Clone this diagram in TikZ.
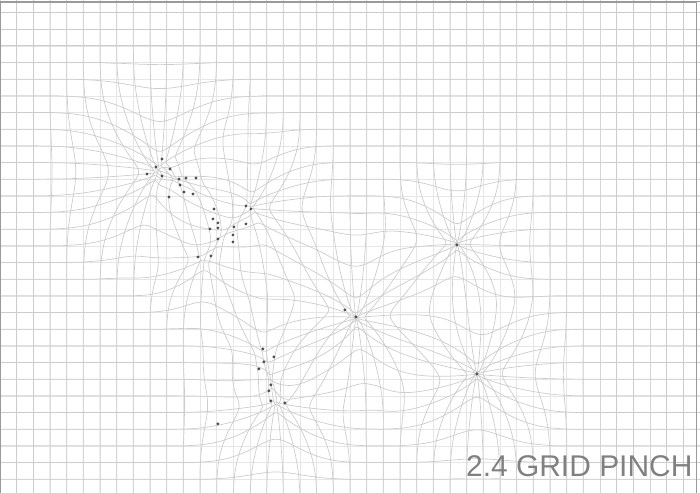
\documentclass[tikz,border=0pt]{standalone}
\usepackage{fontspec}
\setmainfont{Liberation Sans}
\definecolor{gridgray}{HTML}{CCCCCC}
\definecolor{ghostgray}{HTML}{E6E6E6}
\definecolor{dotgray}{HTML}{505050}
\definecolor{framegray}{HTML}{9A9A9A}
\definecolor{titlegray}{HTML}{808080}

% attractor points (grid units): x / y / radius
\def\pinchpts{9.6/9.57/4.5,11.4/10.41/2.6,14.88/11.73/3.7,13.32/13.17/2.6,12.3/14.61/3.0,27.42/13.89/3.4,21.36/18.33/4.1,15.96/20.73/3.0,16.56/23.37/3.7,28.62/21.69/3.9}
\def\pinchstrength{0.97}

\makeatletter
\newdimen\pX \newdimen\pY \newdimen\pdx \newdimen\pdy
\newdimen\pq \newdimen\pw \newdimen\psx \newdimen\psy \newdimen\psw
% pull of one attractor on the point (\pX,\pY): #1,#2 centre, #3 = 1/r^2
\newcommand\pinchterm[3]{%
  \pdx=\dimexpr#1pt-\pX\relax
  \pdy=\dimexpr#2pt-\pY\relax
  \pq=\dimexpr\strip@pt\pdx\pdx+\strip@pt\pdy\pdy\relax
  \pq=#3\pq
  \ifdim\pq<2.8pt
    \pq=\strip@pt\pq\pq
    \pw=\dimexpr\p@+\pq/4\relax
    \pw=\dimexpr\p@+\strip@pt\pq\pw/3\relax
    \pw=\dimexpr\p@+\strip@pt\pq\pw/2\relax
    \pw=\dimexpr\p@+\strip@pt\pq\pw\relax
    \pw=\dimexpr\p@*\p@/\pw\relax
    \pw=\pinchstrength\pw
    \advance\psw by \pw
    \pw=\strip@pt\pw\pw
    \advance\psx by \strip@pt\pw\pdx
    \advance\psy by \strip@pt\pw\pdy
  \fi}
% the strongest attractor leads: weights w^2 / sum(w)
\newcommand\pinchaddpoint{%
  \psx=\z@ \psy=\z@ \psw=\z@
  \linecode
  \ifdim\psw>\z@
    \psx=\dimexpr\psx*\p@/\psw\relax
    \psy=\dimexpr\psy*\p@/\psw\relax
  \fi
  \xdef\pinchpath{\pinchpath(\strip@pt\dimexpr\pX+\psx\relax,\strip@pt\dimexpr\pY+\psy\relax)}}
\newcommand\pinchvline[1]{%
  \gdef\pinchpath{}%
  \pY=-1pt
  \loop
    \pX=#1pt
    \pinchaddpoint
    \advance\pY by 0.25pt
  \ifdim\pY<29.6pt
  \repeat
  \edef\pinchdraw{\noexpand\draw[gridline] plot[smooth] coordinates {\pinchpath};}%
  \pinchdraw}
\newcommand\pinchhline[1]{%
  \gdef\pinchpath{}%
  \pX=-1pt
  \loop
    \pY=#1pt
    \pinchaddpoint
    \advance\pX by 0.25pt
  \ifdim\pX<43.1pt
  \repeat
  \edef\pinchdraw{\noexpand\draw[gridline] plot[smooth] coordinates {\pinchpath};}%
  \pinchdraw}
\makeatother

\begin{document}
\begin{tikzpicture}[
    x=0.41667cm, y=-0.41667cm,
    ghostline/.style={draw=ghostgray, line width=0.45pt},
    gridline/.style={draw=gridgray, line width=0.5pt},
    pinchdot/.style={circle, fill=dotgray, inner sep=0pt, minimum size=2.3pt},
    frameline/.style={draw=framegray, line width=0.8pt},
    title/.style={text=titlegray, inner sep=0pt, font=\fontsize{21.3pt}{24pt}\selectfont},
]
    \useasboundingbox (0,-0.75) rectangle (42,28.83);
    \clip (0,-0.75) rectangle (42,28.83);

    % faint straight grid underneath
    \foreach \k in {0,...,42}
        \draw[ghostline] (\k,-0.75) -- (\k,28.83);
    \foreach \j in {0,...,28}
        \draw[ghostline] (0,\j) -- (42,\j);

    % =====================================================================
    % vertical grid lines
    % =====================================================================
    \foreach \k in {0,...,42}{
        \gdef\linecode{}
        \foreach \ax/\ay/\rr in \pinchpts{
            \pgfmathtruncatemacro\isnear{abs(\ax-\k)<1.7*\rr}
            \ifnum\isnear=1
                \pgfmathsetmacro\rinv{1/(\rr*\rr)}
                \xdef\linecode{\unexpanded\expandafter{\linecode}\noexpand\pinchterm{\ax}{\ay}{\rinv}}
            \fi
        }
        \pinchvline{\k}
    }

    % =====================================================================
    % horizontal grid lines
    % =====================================================================
    \foreach \j in {0,...,28}{
        \gdef\linecode{}
        \foreach \ax/\ay/\rr in \pinchpts{
            \pgfmathtruncatemacro\isnear{abs(\ay-\j)<1.7*\rr}
            \ifnum\isnear=1
                \pgfmathsetmacro\rinv{1/(\rr*\rr)}
                \xdef\linecode{\unexpanded\expandafter{\linecode}\noexpand\pinchterm{\ax}{\ay}{\rinv}}
            \fi
        }
        \pinchhline{\j}
    }

    % =====================================================================
    % points, frame and title (pixel units)
    % =====================================================================
    \begin{scope}[shift={(0,-0.75)}, x=0.025cm, y=-0.025cm]
        \foreach \px/\py [count=\i] in {162/159,156/167,170/169,147/174,162/176,179/179,186/178,196/178,
            180/185,184/192,193/194,169/197,246/206,251/209,214/209,213/219,218/223,210/229,218/228,
            234/227,246/224,233/235,218/239,233/242,198/257,211/256,263/349,274/357,264/362,259/369,
            271/385,269/391,271/401,285/403,218/424,345/310,356/317,457/245,477/374}
            \node[pinchdot] (pt\i) at (\px,\py) {};

        \draw[frameline] (0.5,493) -- (0.5,2) -- (697,2) -- (697,493);
        \draw[frameline, line width=1.3pt] (0,1.5) -- (700,1.5);

        \node[title, anchor=base west] (title) at (466,477) {2.4 GRID PINCH};
    \end{scope}

\end{tikzpicture}
\end{document}
